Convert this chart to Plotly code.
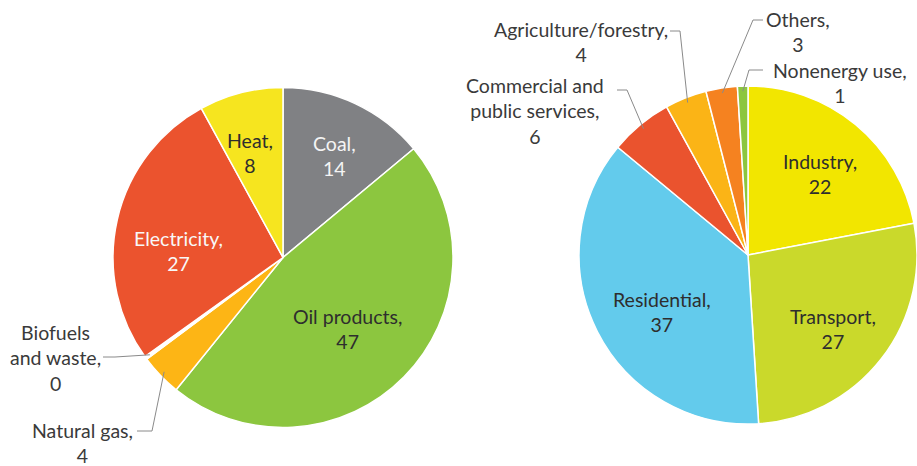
import math
import plotly.graph_objects as go

W, H = 917, 466

# left pie: energy sources
src_labels = ["Coal", "Oil products", "Natural gas", "Biofuels<br>and waste", "Electricity", "Heat"]
src_values = [14, 47, 4, 0.3, 27, 8]
src_colors = ["#808184", "#8cc63f", "#fdb515", "#ffffff", "#eb532e", "#f6e51f"]

# right pie: end uses
use_labels = ["Industry", "Transport", "Residential", "Commercial and<br>public services",
              "Agriculture/forestry", "Others", "Nonenergy use"]
use_values = [22, 27, 37, 6, 4, 3, 1]
use_colors = ["#f2e600", "#cad92b", "#63cbec", "#ea532e", "#fbb416", "#f58220", "#8cc63f"]

# pie placement in pixels: centre x, centre y, radius
LEFT = (283, 257.5, 170)
RIGHT = (748, 255, 169)

# inside labels: colour and position (distance from centre, angle clockwise from 12 o'clock)
src_inside = {0: ("#f4f4f4", 114, 27), 1: ("#2e2e2e", 96, 138),
              4: ("#f8f8f8", 105, -86.5), 5: ("#2e2e2e", 110, -17.4)}
use_inside = {0: ("#2e2e2e", 108, 41.6), 1: ("#2e2e2e", 113, 131),
              2: ("#2e2e2e", 103, 236.7)}

# outside labels: text centre, elbow, tail of the leader line (pixels)
src_outside = {
    2: dict(text=(82, 443), elbow=(152, 431), tail=(137, 431)),
    3: dict(text=(55, 358), elbow=(115, 357), tail=(103, 357)),
}
use_outside = {
    3: dict(text=(535, 111), elbow=(627, 90), tail=(617, 90)),
    4: dict(text=(581, 42), elbow=(680, 31), tail=(670, 31)),
    5: dict(text=(798, 32), elbow=(753, 20), tail=(763, 20)),
    6: dict(text=(840, 83), elbow=(749, 70), tail=(763, 70)),
}

FONT = "Lato"
FS = 19.5


def px(x):
    return x / W


def py(y):
    return 1 - y / H


def domain(c):
    cx, cy, r = c
    return dict(x=[px(cx - r), px(cx + r)], y=[py(cy + r), py(cy - r)])


fig = go.Figure()
annotations = []
shapes = []


def label(x, y, text, color):
    annotations.append(dict(
        x=px(x), y=py(y), xref="paper", yref="paper", text=text,
        showarrow=False, xanchor="center", yanchor="middle",
        font=dict(family=FONT, size=FS, color=color),
    ))


def add_pie(labels, values, colors, geo, inside, outside):
    fig.add_trace(go.Pie(
        labels=labels, values=values, sort=False, direction="clockwise",
        marker=dict(colors=colors, line=dict(color="white", width=1.5)),
        textinfo="none", hoverinfo="skip", showlegend=False,
        domain=domain(geo),
    ))
    cx, cy, r = geo
    total = sum(values)
    cum = 0
    for i, (lab, v) in enumerate(zip(labels, values)):
        mid = (cum + v / 2) / total * 2 * math.pi
        cum += v
        text = f"{lab},<br>{round(v)}"
        if i in inside:
            color, d, ang = inside[i]
            a = math.radians(ang)
            label(cx + d * math.sin(a), cy - d * math.cos(a), text, color)
        else:
            o = outside[i]
            ex, ey = cx + 0.97 * r * math.sin(mid), cy - 0.97 * r * math.cos(mid)
            pts = [(ex, ey), o["elbow"], o["tail"]]
            for (x0, y0), (x1, y1) in zip(pts[:-1], pts[1:]):
                shapes.append(dict(type="line", xref="paper", yref="paper",
                                   x0=px(x0), y0=py(y0), x1=px(x1), y1=py(y1),
                                   line=dict(color="#8a8a8a", width=1)))
            label(*o["text"], text, "#3a3a3a")


add_pie(src_labels, src_values, src_colors, LEFT, src_inside, src_outside)
add_pie(use_labels, use_values, use_colors, RIGHT, use_inside, use_outside)

fig.update_layout(
    width=W, height=H,
    margin=dict(l=0, r=0, t=0, b=0),
    paper_bgcolor="white", plot_bgcolor="white",
    annotations=annotations, shapes=shapes,
    font=dict(family=FONT, size=FS),
)

# drop the default page margin so the figure sits at the window's corner
fig.write_html("out.html", config={"displayModeBar": False},
               post_script="document.body.style.margin='0';")
